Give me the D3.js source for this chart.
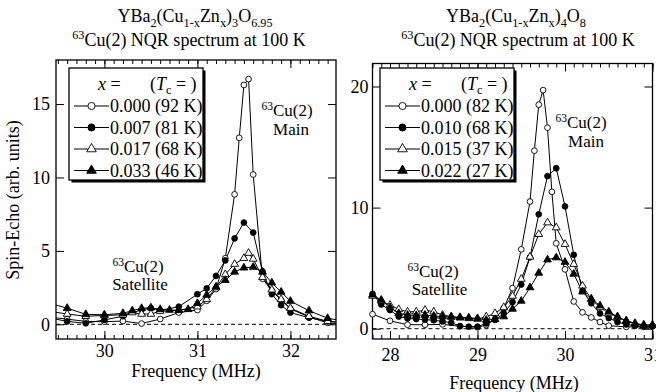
<!DOCTYPE html>
<html><head><meta charset="utf-8">
<script src="https://cdn.jsdelivr.net/npm/d3@7"></script>
<style>
body{margin:0;background:#fff}
svg{display:block}
text{font-family:"Liberation Serif","Times New Roman",serif;fill:#000}
</style>
</head><body>
<svg id="c" width="656" height="392"></svg>
<script>
// ---------------- DATA ----------------
// Left panel: YBa2(Cu1-xZn x)3O6.95
const leftLabels = ["0.000 (92 K)", "0.007 (81 K)", "0.017 (68 K)", "0.033 (46 K)"];
const leftF0 = [29.4,29.6,29.8,30.0,30.2,30.4,30.6,30.8,31.0,31.1,31.2,31.3,31.4,31.45,31.5,31.55,31.6,31.7,31.8,31.9,32.0,32.2,32.4,32.6];
const leftV0 = [0.5,0.35,0.2,0.18,0.22,0.05,0.36,0.8,0.97,1.6,2.4,4.5,8.85,12.7,16.3,16.7,10.2,3.1,2.3,1.65,1.05,0.5,0.1,-0.05];
const leftF1 = [29.4,29.6,29.8,30.0,30.2,30.4,30.5,30.6,30.8,31.0,31.1,31.2,31.3,31.4,31.5,31.6,31.7,31.8,31.9,32.0,32.2,32.4,32.6];
const leftV1 = [0.45,0.2,0.07,0.3,0.55,1.0,1.1,0.95,1.2,2.05,2.45,3.3,4.35,5.85,6.93,6.25,3.6,2.05,1.3,0.8,0.45,0.2,0.1];
const leftF2 = [29.4,29.6,29.8,30.0,30.2,30.3,30.4,30.5,30.6,30.8,31.0,31.1,31.2,31.3,31.4,31.5,31.55,31.6,31.7,31.8,31.9,32.0,32.2,32.4,32.6];
const leftV2 = [0.9,0.7,0.55,0.6,0.65,0.8,0.7,0.7,0.9,0.95,1.2,1.7,2.5,3.4,4.1,4.5,4.85,4.45,3.2,2.35,1.7,1.1,0.55,0.2,0.1];
const leftF3 = [29.4,29.6,29.8,30.0,30.2,30.3,30.4,30.5,30.6,30.7,30.8,30.9,31.0,31.1,31.2,31.3,31.4,31.5,31.6,31.7,31.8,31.9,32.0,32.2,32.4,32.6];
const leftV3 = [1.45,1.1,0.68,0.65,0.75,0.93,1.09,1.13,1.02,0.97,0.97,1.02,1.43,2.0,2.56,3.0,3.57,3.85,3.9,3.57,2.83,2.2,1.58,0.93,0.41,0.2];

// Right panel: YBa2(Cu1-xZn x)4O8
const rightLabels = ["0.000 (82 K)", "0.010 (68 K)", "0.015 (37 K)", "0.022 (27 K)"];
const rightF0 = [27.8,28.0,28.2,28.4,28.6,28.8,29.0,29.1,29.2,29.3,29.4,29.5,29.6,29.65,29.7,29.75,29.8,29.85,29.9,30.0,30.1,30.2,30.3,30.4,30.5,30.7,30.9,31.0];
const rightV0 = [1.2,0.65,0.33,0.33,0.36,0.2,0.12,0.3,0.8,1.7,3.35,6.55,10.5,14.7,18.5,19.7,16.6,11.3,7.05,4.9,2.25,1.35,0.93,0.55,0.25,0.15,0.15,0.2];
const rightF1 = [27.8,27.9,28.0,28.1,28.2,28.3,28.4,28.5,28.6,28.7,28.8,28.9,29.0,29.1,29.2,29.3,29.4,29.5,29.6,29.7,29.8,29.9,30.0,30.1,30.2,30.3,30.4,30.5,30.6,30.7,30.8,30.9,31.0];
const rightV1 = [2.87,2.0,1.54,1.0,0.85,0.8,0.75,0.7,0.6,0.5,0.22,0.17,0.17,0.44,0.72,1.27,2.2,3.65,5.9,9.45,12.6,13.25,10.1,6.1,3.13,2.1,1.26,0.88,0.55,0.35,0.25,0.2,0.2];
const rightF2 = rightF1;
const rightV2 = [2.7,2.3,1.95,1.6,1.4,1.4,1.54,1.4,1.13,1.0,0.9,0.85,0.8,1.0,1.27,1.76,2.7,4.1,5.93,7.8,8.76,8.35,6.98,5.33,3.54,2.45,1.76,1.3,0.95,0.66,0.45,0.3,0.3];
const rightF3 = rightF1;
const rightV3 = [2.8,2.37,1.76,1.27,1.13,1.1,1.13,1.05,1.0,0.97,0.94,0.9,0.85,0.72,0.77,1.0,1.63,2.29,3.4,4.6,5.7,5.87,5.5,4.52,3.05,2.45,1.9,1.4,1.0,0.65,0.4,0.3,0.3];

const leftXTicks = [30, 31, 32];
const leftYTicks = [0, 5, 10, 15];
const rightXTicks = [28, 29, 30, 31];
const rightYTicks = [0, 10, 20];
const markerKinds = ["openCircle", "filledCircle", "openTriangle", "filledTriangle"];

// ---------------- DRAW ----------------
const svg = d3.select("#c");
const FONT = 18;

function rich(g, x, y, parts, size, anchor) {
  const t = g.append("text").attr("x", x).attr("y", y)
    .attr("font-size", size).attr("text-anchor", anchor || "start");
  let cur = 0;
  parts.forEach(p => {
    const s = p[0], kind = p[1], ital = p[2];
    const target = kind === "sub" ? size * 0.25 : kind === "sup" ? -size * 0.38 : 0;
    const ts = t.append("tspan").text(s).attr("dy", target - cur);
    if (kind) ts.attr("font-size", size * 0.68);
    if (ital) ts.attr("font-style", "italic");
    cur = target;
  });
  return t;
}

function symbolPath(kind, size) {
  const type = kind.indexOf("Circle") >= 0 ? d3.symbolCircle : d3.symbolTriangle;
  return d3.symbol().type(type).size(size)();
}

function panel(opts) {
  const g = svg.append("g");
  const x = d3.scaleLinear().domain(opts.xd).range(opts.xr);
  const y = d3.scaleLinear().domain(opts.yd).range(opts.yr);
  const [x0, x1] = opts.xr, [y0, y1] = opts.yr; // y0 bottom, y1 top

  const id = "clip" + opts.id;
  svg.append("clipPath").attr("id", id).append("rect")
    .attr("x", x0 - opts.clipPad).attr("y", y1).attr("width", x1 - x0 + 2 * opts.clipPad).attr("height", y0 - y1);

  // zero dashed line
  g.append("line").attr("x1", x0).attr("x2", x1).attr("y1", y(0)).attr("y2", y(0))
    .attr("stroke", "#000").attr("stroke-width", 1).attr("stroke-dasharray", "4,3");

  // axes (ticks pointing inward)
  const minors = d3.range(Math.ceil(opts.xd[0] * 10 - 1e-6), Math.floor(opts.xd[1] * 10 + 1e-6) + 1).map(d => d / 10);
  const clean = sel => { sel.select(".domain").remove(); sel.attr("font-family", null).attr("font-size", null); };
  g.append("g").attr("transform", `translate(0,${y0})`)
    .call(d3.axisBottom(x).tickValues(minors).tickSize(-4).tickFormat("")).call(clean);
  g.append("g").attr("transform", `translate(0,${y0})`)
    .call(d3.axisBottom(x).tickValues(opts.xTicks).tickSize(-8).tickPadding(opts.xPad).tickFormat(d3.format("d")))
    .call(clean).selectAll("text").attr("font-size", FONT);
  g.append("g").attr("transform", `translate(0,${y1})`)
    .call(d3.axisTop(x).tickValues(minors).tickSize(-4).tickFormat("")).call(clean);
  g.append("g").attr("transform", `translate(0,${y1})`)
    .call(d3.axisTop(x).tickValues(opts.xTicks).tickSize(-8).tickFormat("")).call(clean);
  g.append("g").attr("transform", `translate(${x0},0)`)
    .call(d3.axisLeft(y).tickValues(opts.yTicks).tickSize(-8).tickPadding(opts.yPad).tickFormat(d3.format("d")))
    .call(clean).selectAll("text").attr("font-size", FONT);
  g.append("g").attr("transform", `translate(${x1},0)`)
    .call(d3.axisRight(y).tickValues(opts.yTicks).tickSize(-8).tickFormat("")).call(clean);

  // frame
  g.append("rect").attr("x", x0).attr("y", y1).attr("width", x1 - x0).attr("height", y0 - y1)
    .attr("fill", "none").attr("stroke", "#000").attr("stroke-width", 1.3);

  // series
  const dg = g.append("g").attr("clip-path", `url(#${id})`);
  const line = d3.line().x(d => x(d[0])).y(d => y(d[1]));
  opts.series.forEach(s => {
    const pts = s.f.map((f, i) => [f, s.v[i]]);
    dg.append("path").datum(pts).attr("d", line).attr("fill", "none")
      .attr("stroke", "#000").attr("stroke-width", 1);
  });
  opts.series.forEach((s, k) => {
    const kind = markerKinds[k];
    const pts = s.f.map((f, i) => [f, s.v[i]]);
    dg.selectAll(null).data(pts).enter().append("path")
      .attr("transform", d => `translate(${x(d[0])},${y(d[1])})`)
      .attr("d", symbolPath(kind, 26))
      .attr("fill", kind.indexOf("filled") === 0 ? "#000" : "#fff")
      .attr("stroke", "#000").attr("stroke-width", 0.9);
  });

  // legend
  const lx = opts.legX, ly = 68, lw = 134, lh = 112;
  g.append("rect").attr("x", lx + 2.5).attr("y", ly + 2.5).attr("width", lw).attr("height", lh).attr("fill", "#000");
  g.append("rect").attr("x", lx).attr("y", ly).attr("width", lw).attr("height", lh)
    .attr("fill", "#fff").attr("stroke", "#000").attr("stroke-width", 1.3);
  rich(g, lx + 29, ly + 21.5, [["x", null, true], [" ="]], FONT);
  rich(g, lx + 81, ly + 21.5, [["("], ["T", null, true], ["c", "sub"], [" = )"]], FONT);
  const rows = [106, 127.5, 149, 170.5];
  opts.labels.forEach((lab, k) => {
    const cy = rows[k];
    g.append("line").attr("x1", lx + 5).attr("x2", lx + 40).attr("y1", cy).attr("y2", cy)
      .attr("stroke", "#000").attr("stroke-width", 1);
    const kind = markerKinds[k];
    g.append("path").attr("transform", `translate(${lx + 22.5},${cy})`)
      .attr("d", symbolPath(kind, 40))
      .attr("fill", kind.indexOf("filled") === 0 ? "#000" : "#fff")
      .attr("stroke", "#000").attr("stroke-width", 0.9);
    g.append("text").attr("x", lx + 41).attr("y", cy + 6).attr("font-size", FONT).text(lab);
  });
  return g;
}

// Left panel
const gl = panel({
  id: "L", xd: [29.48, 32.49], xr: [56, 336], yd: [-1, 18], yr: [339, 60],
  xTicks: leftXTicks, yTicks: leftYTicks, xPad: 5, yPad: 6, clipPad: 0, legX: 69,
  labels: leftLabels,
  series: [{f: leftF0, v: leftV0}, {f: leftF1, v: leftV1}, {f: leftF2, v: leftV2}, {f: leftF3, v: leftV3}]
});
// Right panel
const gr = panel({
  id: "R", xd: [27.8, 31.0], xr: [372.5, 652.5], yd: [-0.85, 21.9], yr: [339, 63.5],
  xTicks: rightXTicks, yTicks: rightYTicks, xPad: 9, yPad: 4, clipPad: 6, legX: 380,
  labels: rightLabels,
  series: [{f: rightF0, v: rightV0}, {f: rightF1, v: rightV1}, {f: rightF2, v: rightV2}, {f: rightF3, v: rightV3}]
});

// Titles
rich(svg, 195, 22, [["YBa"], ["2", "sub"], ["(Cu"], ["1-x", "sub"], ["Zn"], ["x", "sub"], [")"], ["3", "sub"], ["O"], ["6.95", "sub"]], FONT, "middle");
rich(svg, 189, 46, [["63", "sup"], ["Cu(2) NQR spectrum at 100 K"]], FONT, "middle");
rich(svg, 516, 22, [["YBa"], ["2", "sub"], ["(Cu"], ["1-x", "sub"], ["Zn"], ["x", "sub"], [")"], ["4", "sub"], ["O"], ["8", "sub"]], FONT, "middle");
rich(svg, 518, 46, [["63", "sup"], ["Cu(2) NQR spectrum at 100 K"]], FONT, "middle");

// Axis labels
svg.append("text").attr("x", 196).attr("y", 377).attr("text-anchor", "middle").attr("font-size", FONT).text("Frequency (MHz)");
svg.append("text").attr("x", 514).attr("y", 389).attr("text-anchor", "middle").attr("font-size", FONT).text("Frequency (MHz)");
svg.append("text").attr("transform", "translate(19,200) rotate(-90)").attr("text-anchor", "middle")
  .attr("font-size", FONT).text("Spin-Echo (arb. units)");

// Annotations
const ANN = 17;
rich(svg, 287, 116, [["63", "sup"], ["Cu(2)"]], ANN, "middle");
svg.append("text").attr("x", 291).attr("y", 135).attr("text-anchor", "middle").attr("font-size", ANN).text("Main");
rich(svg, 138, 272, [["63", "sup"], ["Cu(2)"]], ANN, "middle");
svg.append("text").attr("x", 140).attr("y", 290).attr("text-anchor", "middle").attr("font-size", ANN).text("Satellite");
rich(svg, 433, 277, [["63", "sup"], ["Cu(2)"]], ANN, "middle");
svg.append("text").attr("x", 439.5).attr("y", 295).attr("text-anchor", "middle").attr("font-size", ANN).text("Satellite");
rich(svg, 581, 128, [["63", "sup"], ["Cu(2)"]], ANN, "middle");
svg.append("text").attr("x", 586).attr("y", 147).attr("text-anchor", "middle").attr("font-size", ANN).text("Main");
</script>
</body></html>
